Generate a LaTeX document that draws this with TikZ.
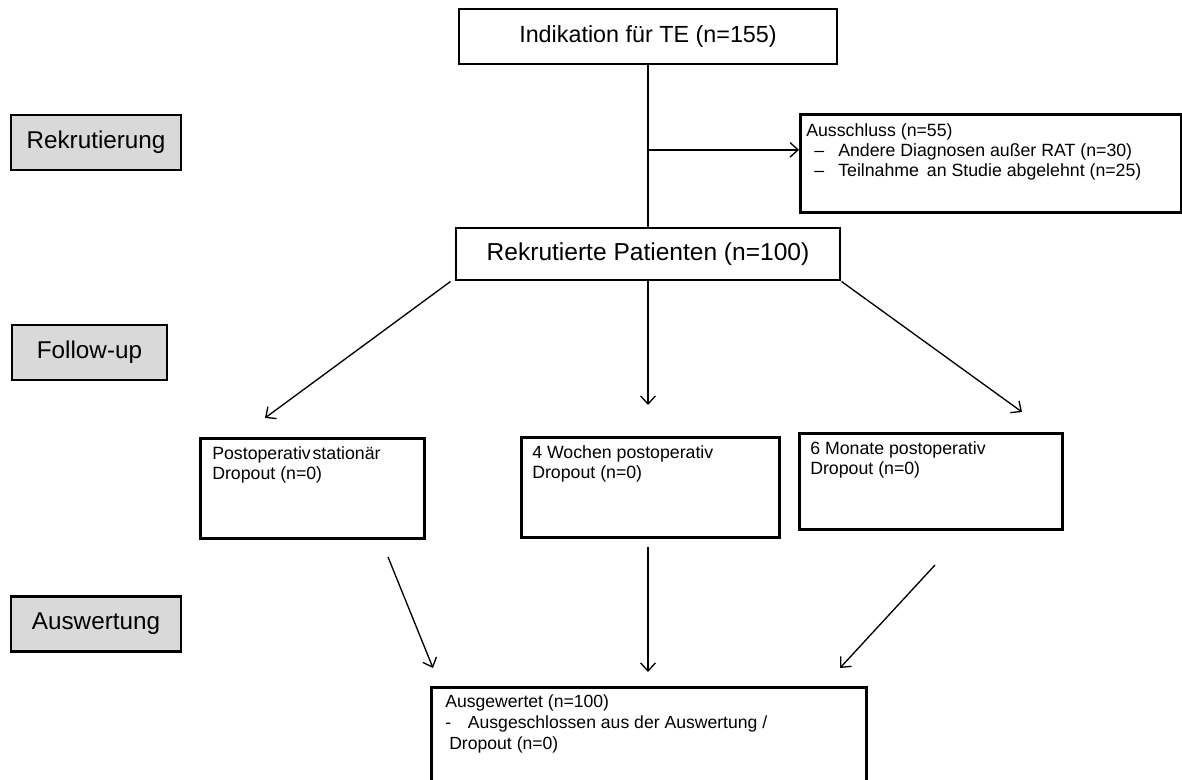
\documentclass[tikz,border=0pt]{standalone}
\usepackage{fontspec}
\setmainfont{Liberation Sans}
\usetikzlibrary{arrows.meta,calc}
\definecolor{lgray}{HTML}{D9D9D9}
\begin{document}
\begin{tikzpicture}[x=0.75pt,y=-0.75pt,
  box/.style={draw,line width=2.2pt,rectangle,inner sep=0pt},
  lab/.style={box,fill=lgray,minimum width=127.5pt,minimum height=41.25pt,font=\fontsize{18.2}{21}\selectfont},
  big/.style={font=\fontsize{17.5}{21}\selectfont},
  txt/.style={font=\fontsize{13.3}{15}\selectfont,align=left,anchor=north west,inner sep=0pt},
  arr/.style={line width=1pt,-{Straight Barb[length=6pt,width=11pt]}}]
\useasboundingbox (0,0) rectangle (1182,780);
% left phase labels
\node[lab] (l1) at (96,142.5) {Rekrutierung};
\node[lab,minimum width=116.25pt] (l2) at (89.5,352.5) {Follow-up};
\node[lab] (l3) at (96,624) {Auswertung};
% main boxes
\node[box,big,minimum width=283.5pt,minimum height=41.25pt] (title) at (648,36.5) {Indikation für TE (n=155)};
\node[box,font=\fontsize{18.4}{21}\selectfont,minimum width=288pt,minimum height=39pt] (rekrut) at (648,254) {Rekrutierte Patienten (n=100)};
% exclusion
\node[box,minimum width=285.75pt,minimum height=73.5pt,anchor=north west] (aus) at (799,113) {};
\node[txt] (austxt) at (806,123) {Ausschluss (n=55)\\
\makebox[24pt][l]{\hspace*{6pt}–}Andere Diagnosen außer RAT (n=30)\\
\makebox[24pt][l]{\hspace*{6pt}–}Teilnahme\, an Studie abgelehnt (n=25)};
% follow-up boxes
\node[box,minimum width=168pt,minimum height=75pt,anchor=north west] (b1) at (199,437) {};
\node[txt] (b1t) at (212,446) {Postoperativ\hspace{0.1em}stationär\\Dropout (n=0)};
\node[box,minimum width=193.5pt,minimum height=75pt,anchor=north west] (b2) at (520,436) {};
\node[txt] (b2t) at (532,445) {4 Wochen postoperativ\\Dropout (n=0)};
\node[box,minimum width=197.25pt,minimum height=72pt,anchor=north west] (b3) at (798,432) {};
\node[txt] (b3t) at (810,441) {6 Monate postoperativ\\Dropout (n=0)};
% bottom box
\node[box,minimum width=326.25pt,minimum height=78pt,anchor=north west] (bot) at (430,686) {};
\node[txt,font=\fontsize{13.2}{15.8}\selectfont] (bott) at (445,694) {Ausgewertet (n=100)\\
\makebox[17pt][l]{-}Ausgeschlossen aus der Auswertung /\\
\hspace*{3pt}Dropout (n=0)};
% connectors
\draw[line width=1pt] (title.south) -- (rekrut.north) coordinate[pos=0.524] (m);
\draw[arr] (m) -- (m -| aus.west);
\coordinate (e1) at (265,418);
\coordinate (e2) at (648,405);
\coordinate (e3) at (1022,412);
\draw[arr] ($(rekrut.south west)+(-4,0)$) -- (e1);
\draw[arr] (rekrut.south) -- (e2);
\draw[arr] ($(rekrut.south east)+(0,0)$) -- (e3);
\coordinate (s1) at (388,557);
\coordinate (s2) at (648,547);
\coordinate (s3) at (935,565);
\coordinate (f1) at (433,668);
\coordinate (f2) at (648,672);
\coordinate (f3) at (840,668);
\draw[arr] (s1) -- (f1);
\draw[arr] (s2) -- (f2);
\draw[arr] (s3) -- (f3);
\end{tikzpicture}
\end{document}
